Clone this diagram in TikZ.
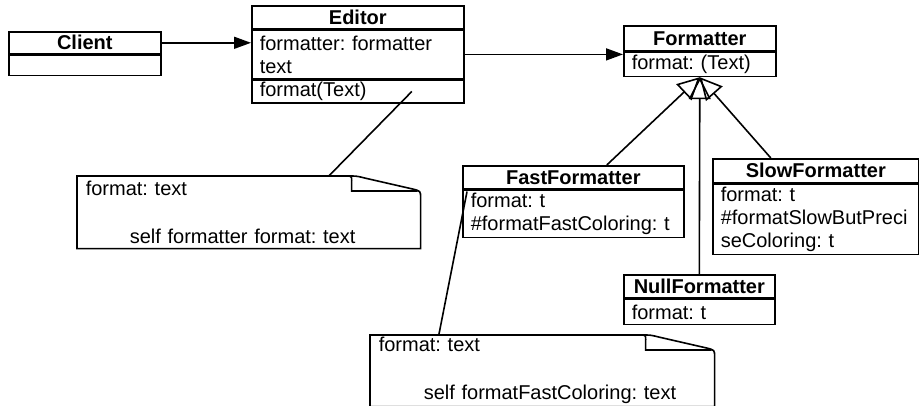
\documentclass[tikz,border=0pt]{standalone}
\usepackage{fontspec}
\setmainfont{Liberation Sans}
\usetikzlibrary{arrows.meta, positioning}
\frenchspacing

% dog-eared note outline around a named node
\newcommand{\drawnote}[1]{%
  \draw (#1.south west) -- (#1.north west)
    -- ([xshift=-36pt]#1.north east)
    .. controls ([xshift=-32pt]#1.north east) .. ([xshift=-28pt,yshift=-1pt]#1.north east)
    -- ([xshift=-4pt,yshift=-6.5pt]#1.north east)
    .. controls ([yshift=-7.5pt]#1.north east) .. ([yshift=-11pt]#1.north east)
    -- (#1.south east) -- cycle;
  \draw ([xshift=-36pt]#1.north east)
    .. controls ([xshift=-34pt]#1.north east) and ([xshift=-34.5pt,yshift=-1.5pt]#1.north east) .. ([xshift=-34.5pt,yshift=-4pt]#1.north east)
    -- ([xshift=-34.5pt,yshift=-7.5pt]#1.north east) -- ([xshift=-1.5pt,yshift=-7.5pt]#1.north east);
}

\begin{document}
\begin{tikzpicture}[x=0.5pt, y=-0.5pt, line width=0.8pt,
    font=\fontsize{10}{11.5}\selectfont,
    classhead/.style={draw, anchor=north west, inner sep=0pt, font=\fontsize{10}{11.5}\selectfont\bfseries},
    classbody/.style={draw, anchor=north west, align=left, inner xsep=4pt, inner ysep=0pt},
    note/.style={anchor=north west, align=left, inner xsep=4pt, inner ysep=0pt, font=\fontsize{10}{12}\selectfont},
    assoc/.style={-{Triangle[length=8.5pt, width=6pt]}},
    inherit/.style={-{Triangle[open, length=11pt, width=11pt]}}]
    \useasboundingbox (0,0) rectangle (919,406);

    % Classes
    \node[classhead, minimum width=76pt, minimum height=11pt] (client) at (8,31) {Client};
    \node[classbody, text width=68pt, minimum height=10pt] (clientbody) at (client.south west) {};

    \node[classhead, minimum width=106pt, minimum height=11.5pt] (editor) at (251,5) {Editor};
    \node[classbody, text width=98pt, minimum height=24pt] (editorattr) at (editor.south west) {formatter: formatter\\text};
    \node[classbody, text width=98pt, minimum height=11.5pt] (editorop) at (editorattr.south west) {format(Text)};

    \node[classhead, minimum width=76pt, minimum height=12.5pt] (formatter) at (623,25) {Formatter};
    \node[classbody, text width=68pt, minimum height=12pt] (formatterbody) at (formatter.south west) {format: (Text)};

    \node[classhead, minimum width=110.5pt, minimum height=11.5pt] (fast) at (462,165) {FastFormatter};
    \node[classbody, text width=102.5pt, minimum height=23.5pt] (fastattr) at (fast.south west) {format: t\\\#formatFastColoring: t};

    \node[classhead, minimum width=103pt, minimum height=12pt] (slow) at (712,158) {SlowFormatter};
    \node[classbody, text width=95pt, minimum height=35pt] (slowattr) at (slow.south west) {format: t\\\#formatSlowButPreci\\seColoring: t};

    \node[classhead, minimum width=75.5pt, minimum height=11.5pt] (null) at (623,274) {NullFormatter};
    \node[classbody, text width=67.5pt, minimum height=12.5pt] (nullattr) at (null.south west) {format: t};

    % Notes
    \node[note, text width=163pt, minimum height=35.5pt] (note1) at (77,176) {format: text\\[12pt]\hspace*{22pt}self formatter format: text};
    \node[note, text width=163.5pt, minimum height=35pt] (note2) at (370,335) {format: text\\[12pt]\hspace*{22.5pt}self formatFastColoring: text};
    \drawnote{note1}
    \drawnote{note2}

    % Associations
    \draw[assoc] (client.east) -- (client.east -| editorattr.west);
    \draw[assoc] (editorattr.east) -- (editorattr.east -| formatter.west);

    % Generalizations
    \coordinate (gen) at (formatterbody.south);
    \draw[inherit] ([xshift=16.75pt]fast.north) -- (gen);
    \draw[inherit] ([xshift=-22.5pt]slow.north) -- (gen);
    \draw[inherit] (null.north) -- (gen);

    % Note links
    \draw ([xshift=27pt]editorop.center) -- ([xshift=40pt]note1.north);
    \draw ([xshift=2.5pt,yshift=-1pt]fastattr.north west) -- ([xshift=-51.75pt]note2.north);
\end{tikzpicture}
\end{document}
